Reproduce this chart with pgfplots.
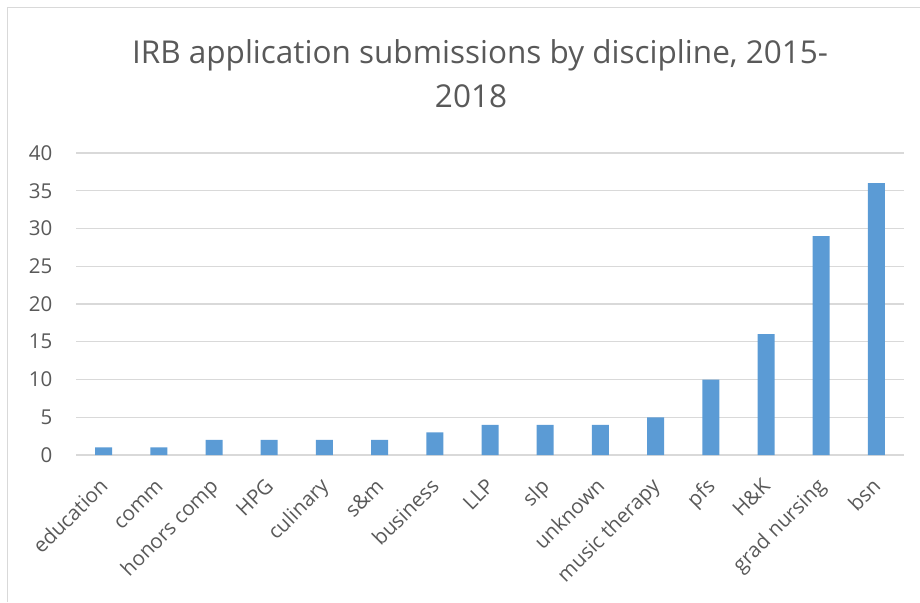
\documentclass[border=0pt]{standalone}
\usepackage{pgfplots}
\pgfplotsset{compat=1.18}
\usepackage{fontspec}
\setmainfont{Open Sans}
\definecolor{txt}{HTML}{595959}
\definecolor{grd}{HTML}{D9D9D9}
\definecolor{barc}{HTML}{5B9BD5}
\begin{document}
\begin{tikzpicture}[x=1pt,y=1pt]
\useasboundingbox (0,0) rectangle (920,602);
\draw[grd, line width=1.5pt] (7.5,0) -- (7.5,594.5) -- (920,594.5);
\node[txt, font=\fontsize{31.5}{38}\selectfont, anchor=base, inner sep=0pt] at (480,538) {IRB application submissions by discipline, 2015-};
\node[txt, font=\fontsize{31.5}{38}\selectfont, anchor=base, inner sep=0pt] at (471,494) {2018};
\begin{axis}[
  at={(76pt,147pt)}, anchor=south west,
  scale only axis, width=828pt, height=302pt,
  xmin=-0.5, xmax=14.5, ymin=0, ymax=40,
  ytick={0,5,...,40},
  xtick={0,...,14},
  xticklabels={education,comm,honors comp,HPG,culinary,s\&m,business,LLP,slp,unknown,music therapy,pfs,H\&K,grad nursing,bsn},
  axis line style={draw=none},
  major tick length=0pt,
  ymajorgrids, grid style={grd, line width=1.3pt},
  tick label style={txt, font=\fontsize{20.5}{24}\selectfont},
  /pgf/number format/assume math mode=true,
  yticklabel style={anchor=east, inner sep=0pt, xshift=-23.5pt},
  xticklabel style={xshift=0pt, yshift=-27pt, rotate=45, anchor=north east, inner sep=0pt, text height=0.76em, text depth=0.24em},
  ybar, bar width=17pt,
  clip=false,
]
\addplot[fill=barc, draw=none] coordinates {
(0,1) (1,1) (2,2) (3,2) (4,2) (5,2) (6,3) (7,4) (8,4) (9,4) (10,5) (11,10) (12,16) (13,29) (14,36)
};
\end{axis}
\end{tikzpicture}
\end{document}
